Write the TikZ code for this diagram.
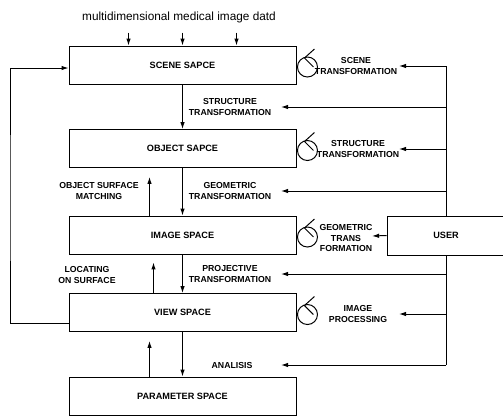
\documentclass[tikz,border=0pt]{standalone}
\usepackage{fontspec}
\setmainfont{Liberation Sans}
\usetikzlibrary{arrows.meta,calc}

\begin{document}
\begin{tikzpicture}[x=0.025cm, y=-0.025cm,
  spbox/.style={draw, line width=0.6pt, minimum width=5.675cm,
                minimum height=0.95cm, inner sep=0pt,
                font=\fontsize{6.5}{8}\selectfont\bfseries},
  ubox/.style={draw, line width=0.6pt, minimum width=2.95cm,
               minimum height=0.975cm, inner sep=0pt,
               font=\fontsize{6.5}{8}\selectfont\bfseries},
  arr/.style={-{Latex[length=5pt,width=3.2pt]}, line width=0.7pt},
  conn/.style={line width=0.7pt},
  lbl/.style={font=\fontsize{6.2}{7.8}\selectfont\bfseries, align=center,
              inner sep=1pt},
]
\useasboundingbox (0,0) rectangle (503,417);

%% ---- Column spacing (px, y runs down)
\def\cx{182.5} % spaces
\def\cm{230}   % labels between spaces
\def\cs{356}   % labels beside loops

%% ---- Row heights (top to bottom)
\def\rA{65}    % scene
\def\rB{148.5} % object
\def\rC{235}   % image
\def\rD{312.5} % view
\def\rE{396}   % parameter

%% ======== SPACES ========
\node[font=\fontsize{8.4}{10}\selectfont] (data) at (179,17)
  {multidimensional medical image datd};
\node[spbox] (scene)  at (\cx,\rA) {SCENE SAPCE};
\node[spbox] (object) at (\cx,\rB) {OBJECT SAPCE};
\node[spbox] (image)  at (\cx,\rC) {IMAGE SPACE};
\node[spbox] (view)   at (\cx,\rD) {VIEW SPACE};
\node[spbox] (param)  at (\cx,\rE) {PARAMETER SPACE};
\node[ubox]  (user)   at (446,235.5) {USER};

% data input
\foreach \dx in {-54,0,54}
  \draw[arr] ($(scene.north)+(\dx,-13)$) -- ($(scene.north)+(\dx,0)$);

% down the chain
\draw[arr] (scene.south)  -- (object.north);
\draw[arr] (object.south) -- (image.north);
\draw[arr] (image.south)  -- (view.north);
\draw[arr] (view.south)   -- (param.north);

% back up the chain
\draw[arr] ($(image.north)+(-33,0)$) -- ($(object.south)+(-33,9)$);
\draw[arr] ($(view.north)+(-29,0)$)  -- ($(image.south)+(-29,8)$);
\draw[arr] ($(param.north)+(-33,0)$) -- ($(view.south)+(-33,9)$);

% feedback view -> scene
\coordinate (loopx) at (10,200);
\draw[arr] ($(view.west)+(0,11)$) -| (loopx) |- ($(scene.west)+(0,3)$);

%% ---- Labels between spaces
\node[lbl] (strT1) at (\cm,107) {STRUCTURE\\TRANSFORMATION};
\node[lbl] (geoT1) at (\cm,191) {GEOMETRIC\\TRANSFORMATION};
\node[lbl] (prjT)  at (\cm,274) {PROJECTIVE\\TRANSFORMATION};
\node[lbl] (anl)   at (232,365) {ANALISIS};
\node[lbl] (objM)  at (99,191) {OBJECT SURFACE\\MATCHING};
\node[lbl] (locS)  at (87,275) {LOCATING\\ON SURFACE};

%% ---- Labels beside loops
\node[lbl] (scnT)  at (\cs,66)  {SCENE\\TRANSFORMATION};
\node[lbl] (strT2) at (358,149) {STRUCTURE\\TRANSFORMATION};
\node[lbl] (geoT2) at (346,238) {GEOMETRIC\\TRANS\\FORMATION};
\node[lbl] (imgP)  at (358,314) {IMAGE\\PROCESSING};

% loops on each space
\foreach \b in {scene,object,image,view}{
  \draw[conn] ($(\b.east)+(11,2)$) circle[radius=10];
  \draw[conn] ($(\b.east)+(18,-16)$) -- ($(\b.east)+(8,-7)$)
    -- ($(\b.east)+(17,2)$);
}

%% ---- User trunk
\coordinate (tipm) at (281,0);
\coordinate (tips) at (399,0);
\draw[conn] (user.north) -- (user.north |- scnT);
\draw[conn] (user.south) -- (user.south |- anl);

\draw[arr] (user.north |- scnT)  -- (scnT -| tips);
\draw[arr] (user.north |- strT1) -- (strT1 -| tipm);
\draw[arr] (user.north |- strT2) -- (strT2 -| tips);
\draw[arr] (user.north |- geoT1) -- (geoT1 -| tipm);
\draw[arr] (user.west) -- ($(geoT2.east)+(-2,-2)$);
\draw[arr] (user.south |- prjT)  -- (prjT -| tipm);
\draw[arr] (user.south |- imgP)  -- (imgP -| tips);
\draw[arr] (user.south |- anl)   -- (anl -| tipm);

\end{tikzpicture}
\end{document}
